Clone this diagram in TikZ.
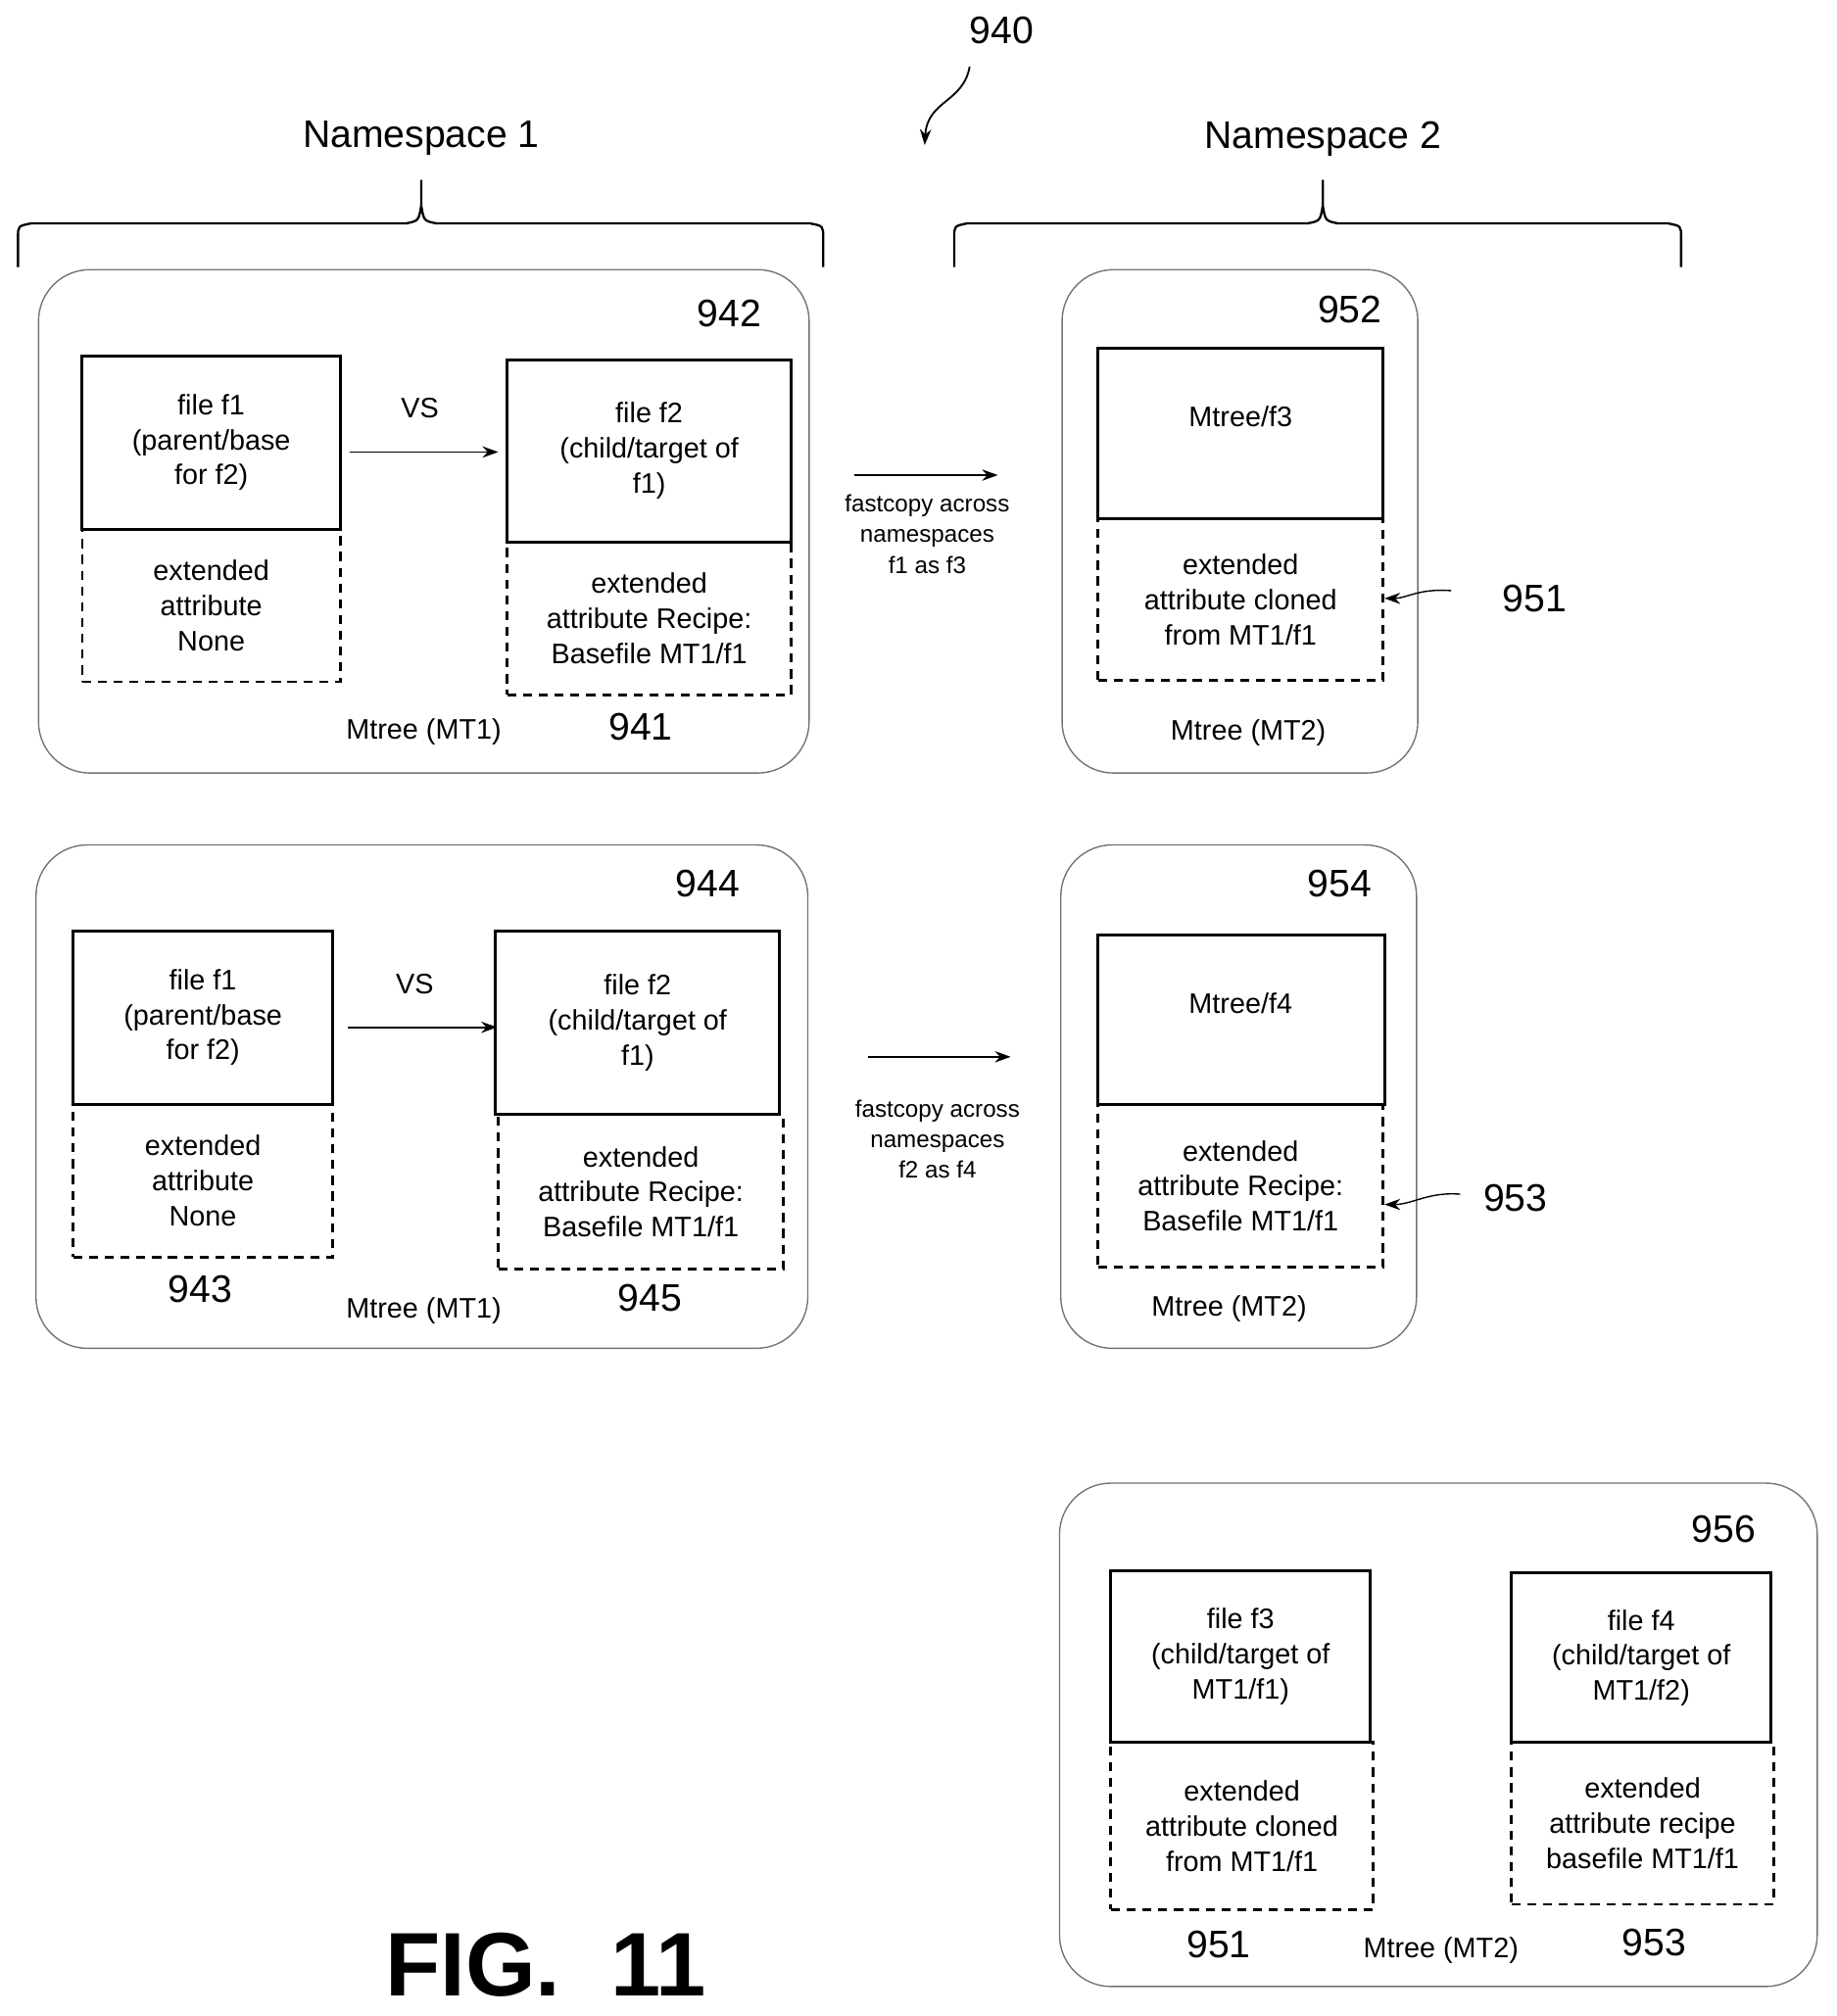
\documentclass[tikz,border=0pt]{standalone}
\usepackage{fontspec}
\setmainfont{Liberation Sans}
\usetikzlibrary{fit,arrows.meta}
\begin{document}
\begin{tikzpicture}[x=0.02cm,y=-0.02cm,
  outer/.style={draw=black!55,rounded corners=0.8cm,line width=0.6pt},
  sbox/.style={draw,line width=1.3pt,inner sep=0pt},
  dbox/.style={draw,dashed,dash pattern=on 4pt off 3pt,line width=1.2pt,inner sep=0pt},
  txt/.style={align=center,font=\fontsize{12.5}{15.5}\selectfont},
  num/.style={font=\fontsize{17}{20}\selectfont},
  small/.style={align=center,font=\fontsize{10.5}{13.5}\selectfont},
  arr/.style={-{Stealth[length=7pt,width=5pt]},line width=0.8pt},
  brace/.style={line width=1pt}]
\useasboundingbox (0,0) rectangle (1430,1570);
% top label
\node[num] (n940) at (780,24) {940};
\coordinate (c940) at (755,52);
\coordinate (t940) at (720,113);
\draw[arr] (c940) .. controls (750,80) and (722,78) .. (t940);
% namespaces
\node[font=\fontsize{17}{20}\selectfont] (ns1) at (328,108) {Namespace 1};
\node[font=\fontsize{17}{20}\selectfont] (ns2) at (1030,108) {Namespace 2};
\draw[brace] (14,208) -- (14,185) .. controls (14,176) .. (24,174) -- (316,174) .. controls (326,172) .. (328,160) -- (328,140)
  (328,160) .. controls (330,172) .. (340,174) -- (631,174) .. controls (641,176) .. (641,185) -- (641,208);
\draw[brace] (743,208) -- (743,185) .. controls (743,176) .. (753,174) -- (1018,174) .. controls (1028,172) .. (1030,160) -- (1030,140)
  (1030,160) .. controls (1032,172) .. (1042,174) -- (1299,174) .. controls (1309,176) .. (1309,185) -- (1309,208);
% ---------- box 942
\node[outer,fit={(30,210)(630,602)},inner sep=0pt] (b942) {};
\node[num] (n942) at (568,244) {942};
\node[dbox,fit={(64,412)(265,531)}] (x1) {};
\node[sbox,fit={(64,277)(265,412)}] (f1) {};
\node[txt] at (f1) {file f1\\(parent/base\\for f2)};
\node[txt] at (x1) {extended\\attribute\\None};
\node[dbox,fit={(395,422)(616,541)}] (x2) {};
\node[sbox,fit={(395,280)(616,422)}] (f2) {};
\node[txt] at (f2) {file f2\\(child/target of\\f1)};
\node[txt] at (x2) {extended\\attribute Recipe:\\Basefile MT1/f1};
\node[txt] (vs1) at (327,318) {VS};
\coordinate (a1s) at (272,352); \coordinate (a1e) at (388,352);
\draw[arr] (a1s) -- (a1e);
\node[txt] (m1) at (330,570) {Mtree (MT1)};
\node[num] (n941) at (499,566) {941};
% fastcopy 1
\coordinate (fc1s) at (665,370); \coordinate (fc1e) at (777,370);
\draw[arr] (fc1s) -- (fc1e);
\node[small] (fc1) at (722,416) {fastcopy across\\namespaces\\f1 as f3};
% ---------- box 952
\node[outer,fit={(827,210)(1104,602)},inner sep=0pt] (b952) {};
\node[num] (n952) at (1051,241) {952};
\node[dbox,fit={(855,404)(1077,530)}] (x3) {};
\node[sbox,fit={(855,271)(1077,404)}] (f3) {};
\node[txt] at (855+111,324) {Mtree/f3};
\node[txt] at (x3) {extended\\attribute cloned\\from MT1/f1};
\node[txt] (m2) at (972,571) {Mtree (MT2)};
\node[num] (n951) at (1195,466) {951};
\coordinate (c951) at (1130,460);
\draw[arr,line width=0.6pt] (c951) .. controls (1105,458) and (1095,466) .. (x3.east |- 0,466);
% ---------- box 944
\node[outer,fit={(28,658)(629,1050)},inner sep=0pt] (b944) {};
\node[num] (n944) at (551,688) {944};
\node[dbox,fit={(57,860)(259,979)}] (x4) {};
\node[sbox,fit={(57,725)(259,860)}] (f1b) {};
\node[txt] at (f1b) {file f1\\(parent/base\\for f2)};
\node[txt] at (x4) {extended\\attribute\\None};
\node[dbox,fit={(388,868)(610,988)}] (x5) {};
\node[sbox,fit={(386,725)(607,868)}] (f2b) {};
\node[txt] at (f2b) {file f2\\(child/target of\\f1)};
\node[txt] at (x5) {extended\\attribute Recipe:\\Basefile MT1/f1};
\node[txt] (vs2) at (323,766) {VS};
\coordinate (a2s) at (271,800); \coordinate (a2e) at (387,800);
\draw[arr] (a2s) -- (a2e);
\node[num] (n943) at (156,1004) {943};
\node[txt] (m3) at (330,1021) {Mtree (MT1)};
\node[num] (n945) at (506,1011) {945};
% fastcopy 2
\coordinate (fc2s) at (676,823); \coordinate (fc2e) at (787,823);
\draw[arr] (fc2s) -- (fc2e);
\node[small] (fc2) at (730,887) {fastcopy across\\namespaces\\f2 as f4};
% ---------- box 954
\node[outer,fit={(826,658)(1103,1050)},inner sep=0pt] (b954) {};
\node[num] (n954) at (1043,688) {954};
\node[dbox,fit={(855,860)(1077,987)}] (x6) {};
\node[sbox,fit={(855,728)(1078,860)}] (f4) {};
\node[txt] at (966,781) {Mtree/f4};
\node[txt] at (x6) {extended\\attribute Recipe:\\Basefile MT1/f1};
\node[txt] (m4) at (957,1019) {Mtree (MT2)};
\node[num] (n953) at (1180,933) {953};
\coordinate (c953) at (1137,930);
\draw[arr,line width=0.6pt] (c953) .. controls (1112,928) and (1100,938) .. (x6.east |- 0,938);
% ---------- box 956
\node[outer,fit={(825,1155)(1415,1547)},inner sep=0pt] (b956) {};
\node[num] (n956) at (1342,1191) {956};
\node[dbox,fit={(865,1357)(1069,1487)}] (x7) {};
\node[sbox,fit={(865,1223)(1067,1357)}] (f3b) {};
\node[txt] at (f3b) {file f3\\(child/target of\\MT1/f1)};
\node[txt] at (x7) {extended\\attribute cloned\\from MT1/f1};
\node[dbox,fit={(1177,1357)(1381,1483)}] (x8) {};
\node[sbox,fit={(1177,1225)(1379,1357)}] (f4b) {};
\node[txt] at (f4b) {file f4\\(child/target of\\MT1/f2)};
\node[txt] at (x8) {extended\\attribute recipe\\basefile MT1/f1};
\node[num] (n951b) at (949,1514) {951};
\node[txt] (m5) at (1122,1519) {Mtree (MT2)};
\node[num] (n953b) at (1288,1513) {953};
% figure label
\node[font=\fontsize{40}{44}\selectfont\bfseries] (fig) at (425,1530) {FIG.\ \ 11};
\end{tikzpicture}
\end{document}
